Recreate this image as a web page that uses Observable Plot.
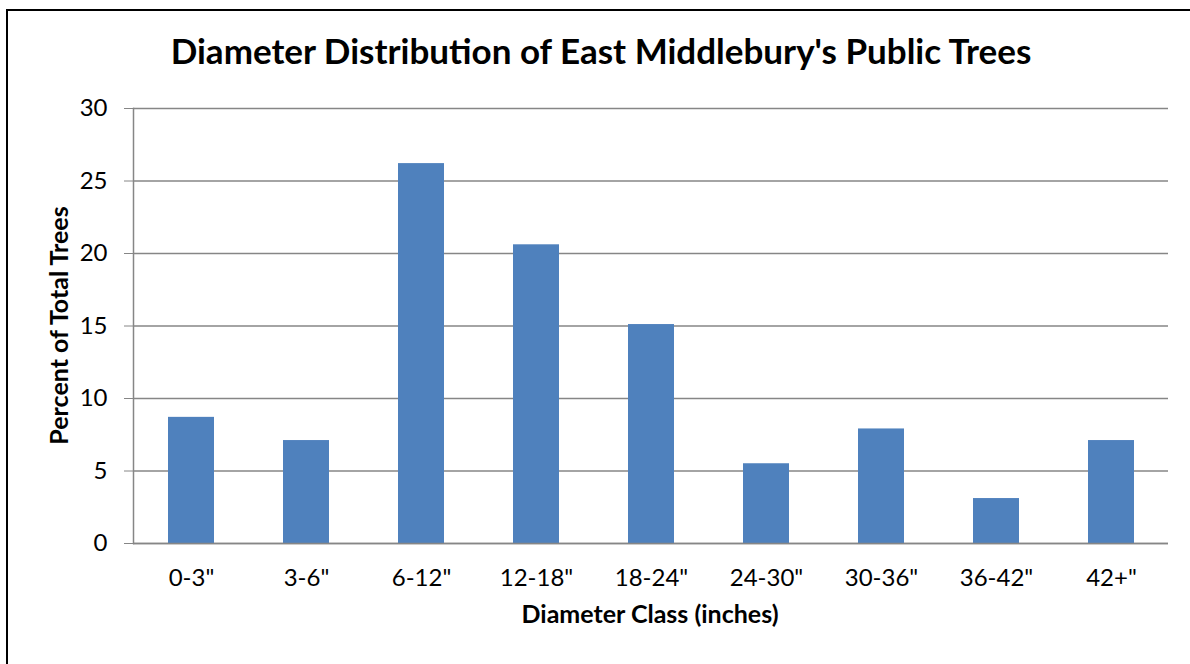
<!DOCTYPE html>
<html><head><meta charset="utf-8">
<script src="https://cdn.jsdelivr.net/npm/d3@7"></script>
<script src="https://cdn.jsdelivr.net/npm/@observablehq/plot@0.6"></script>
<style>
body{margin:0;background:#fff;}
#wrap{position:relative;width:1190px;height:664px;overflow:hidden;font-family:Lato,"Open Sans",sans-serif;color:#000;}
#frame{position:absolute;left:6px;top:9px;width:1300px;height:800px;border-left:2px solid #000;border-top:2px solid #000;}
#title{position:absolute;left:6px;width:1190px;top:33px;text-align:center;font-weight:bold;font-size:35px;line-height:35px;white-space:nowrap;}
#xlabel{position:absolute;left:450px;width:400px;top:601px;text-align:center;font-weight:bold;font-size:25px;line-height:25px;white-space:nowrap;}
#ylabel{position:absolute;left:-142px;width:400px;top:313px;text-align:center;font-weight:bold;font-size:25px;line-height:25px;white-space:nowrap;transform:rotate(-90deg);transform-origin:center;}
#chart{position:absolute;left:0;top:0;}
</style>
</head><body>
<div id="wrap">
  <div id="chart"></div>
  <div id="frame"></div>
  <div id="title">Diameter Distribution of East Middlebury's Public Trees</div>
  <div id="xlabel">Diameter Class (inches)</div>
  <div id="ylabel">Percent of Total Trees</div>
</div>
<script>
const categories = ['0-3"','3-6"','6-12"','12-18"','18-24"','24-30"','30-36"','36-42"','42+"'];
const percents = [8.7, 7.1, 26.2, 20.6, 15.1, 5.5, 7.9, 3.1, 7.1];
const yTicks = [0, 5, 10, 15, 20, 25, 30];
const data = categories.map((c, i) => ({c, v: percents[i]}));

const chart = Plot.plot({
  width: 1190, height: 664,
  marginLeft: 133, marginRight: 22, marginTop: 108, marginBottom: 121,
  style: {fontFamily: 'Lato, "Open Sans", sans-serif', fontSize: '24px', color: '#000', background: 'transparent'},
  x: {domain: categories, paddingInner: 0.6, paddingOuter: 0.3, label: null},
  y: {domain: [0, 30], ticks: yTicks, label: null},
  marks: [
    Plot.gridY(yTicks, {stroke: '#868686', strokeOpacity: 1, strokeWidth: 1.5}),
    Plot.barY(data, {x: 'c', y: 'v', fill: '#4F81BD'}),
    Plot.frame({anchor: 'left', stroke: '#868686', strokeWidth: 1.5}),
    Plot.ruleY([0], {stroke: '#868686', strokeWidth: 1.5}),
    Plot.axisY(yTicks, {tickSize: 9, tickPadding: 17, stroke: '#868686', fill: '#000', fontSize: 24, label: null}),
    Plot.axisX({tickSize: 0, tickPadding: 25, fill: '#000', fontSize: 24, label: null})
  ]
});
document.getElementById('chart').appendChild(chart);
</script>
</body></html>
